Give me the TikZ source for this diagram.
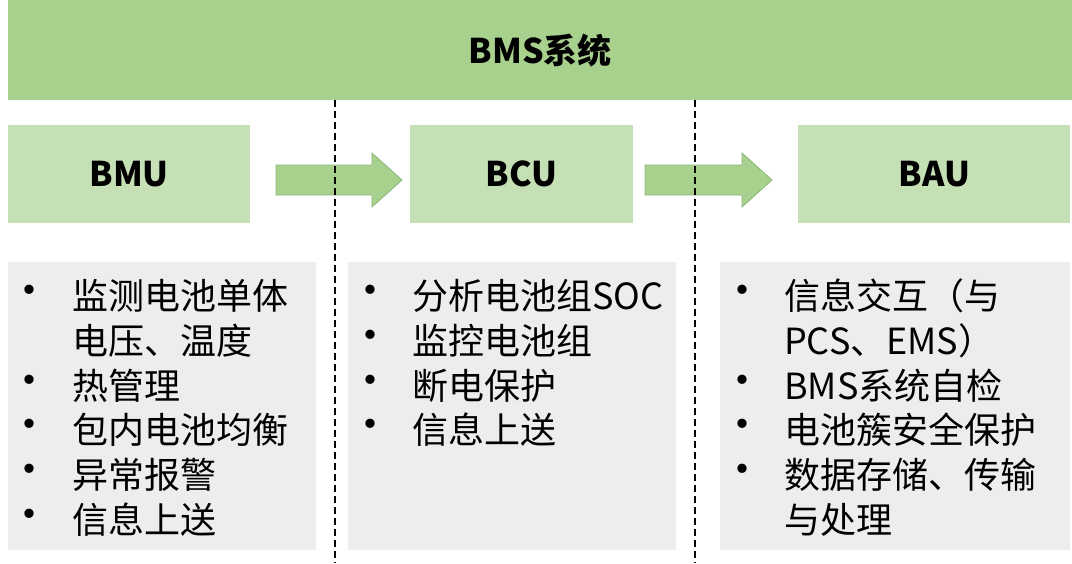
\documentclass[tikz,border=0pt]{standalone}
\usepackage{fontspec}
\setmainfont{Noto Sans CJK SC}
\begin{document}
\begin{tikzpicture}[x=1pt,y=-1pt,
 hdr/.style={fill=hg,draw=none},
 mod/.style={fill=mg,draw=none},
 pan/.style={fill=pg,draw=none},
 ttl/.style={font=\fontsize{34}{34}\selectfont\bfseries},
 it/.style={anchor=west,inner sep=0,font=\fontsize{36}{36}\selectfont},
 bul/.style={anchor=center,inner sep=0,font=\fontsize{44}{44}\selectfont},
 arr/.style={fill=ag,draw=ad,line width=0.8pt},
 dsh/.style={line width=2pt,dash pattern=on 7pt off 4pt}]
\definecolor{hg}{HTML}{A9D18E}
\definecolor{mg}{HTML}{C5E0B4}
\definecolor{pg}{HTML}{EDEDED}
\definecolor{ag}{HTML}{A9D18E}
\definecolor{ad}{HTML}{8DB87A}
\useasboundingbox (0,0) rectangle (1072,563);
\fill[white] (0,0) rectangle (1072,563);
\node[hdr,minimum width=1064,minimum height=100,anchor=north west] (top) at (8,0) {};
\node[ttl] at (top.center) {BMS系统};
\node[mod,minimum width=242,minimum height=98,anchor=north west] (bmu) at (8,125) {};
\node[ttl] at (bmu.center) {BMU};
\node[mod,minimum width=223,minimum height=98,anchor=north west] (bcu) at (410,125) {};
\node[ttl] at (bcu.center) {BCU};
\node[mod,minimum width=272,minimum height=98,anchor=north west] (bau) at (798,125) {};
\node[ttl] at (bau.center) {BAU};
\draw[arr] (276,165)--(372,165)--(372,153)--(402,180)--(372,207)--(372,195)--(276,195)--cycle;
\draw[arr] (645,165)--(742,165)--(742,153)--(772,180)--(742,207)--(742,195)--(645,195)--cycle;
\coordinate (d1) at (335,100); \coordinate (d1b) at (335,563);
\coordinate (d2) at (695,100); \coordinate (d2b) at (695,563);
\node[pan,minimum width=308,minimum height=288,anchor=north west] (p1) at (8,262) {};
\node[pan,minimum width=328,minimum height=288,anchor=north west] (p2) at (348,262) {};
\node[pan,minimum width=350,minimum height=288,anchor=north west] (p3) at (720,262) {};
\draw[dsh] (d1)--(d1b);
\draw[dsh] (d2)--(d2b);
% panel 1
\foreach \y in {296,386,430,475,520} \node[bul] at (30,\y) {•};
\node[it] at (72,296) {监测电池单体};
\node[it] at (72,341) {电压、温度};
\node[it] at (72,386) {热管理};
\node[it] at (72,430) {包内电池均衡};
\node[it] at (72,475) {异常报警};
\node[it] at (72,520) {信息上送};
% panel 2
\foreach \y in {296,341,386,430} \node[bul] at (370,\y) {•};
\node[it] at (412,296) {分析电池组SOC};
\node[it] at (412,341) {监控电池组};
\node[it] at (412,386) {断电保护};
\node[it] at (412,430) {信息上送};
% panel 3
\foreach \y in {296,386,430,475} \node[bul] at (742,\y) {•};
\node[it] at (784,296) {信息交互（与};
\node[it] at (784,341) {PCS、EMS）};
\node[it] at (784,386) {BMS系统自检};
\node[it] at (784,430) {电池簇安全保护};
\node[it] at (784,475) {数据存储、传输};
\node[it] at (784,520) {与处理};
\end{tikzpicture}
\end{document}
